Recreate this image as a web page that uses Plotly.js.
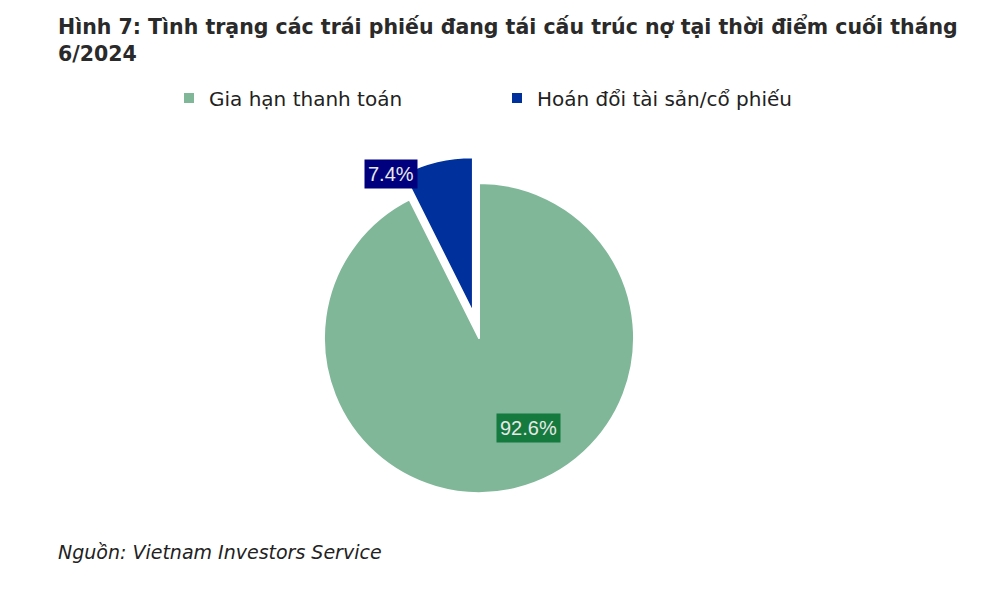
<!DOCTYPE html>
<html>
<head>
<meta charset="utf-8">
<script src="https://cdn.plot.ly/plotly-3.0.1.min.js"></script>
<style>
html,body{margin:0;padding:0;background:#fff;}
#chart{width:994px;height:596px;}
</style>
</head>
<body>
<div id="chart"></div>
<script>
// Data
const categories = ["Gia hạn thanh toán", "Hoán đổi tài sản/cổ phiếu"];
const shares = [92.6, 7.4];
const sliceColors = ["#7fb798", "#00309b"];
const labelBoxColors = ["#157a3e", "#00007f"];
const titleText = "Hình 7: Tình trạng các trái phiếu đang tái cấu trúc nợ tại thời điểm cuối tháng<br>6/2024";
const sourceText = "Nguồn: Vietnam Investors Service";

const FONT = "DejaVu Sans, Verdana, sans-serif";
const LABEL_FONT = "Liberation Sans, Arial, sans-serif";
const total = shares.reduce((a, b) => a + b, 0);
const pct = shares.map(v => (v / total * 100).toFixed(1) + "%");

const trace = {
  type: "pie",
  labels: categories,
  values: shares,
  sort: false,
  direction: "clockwise",
  rotation: 0,
  pull: [0, 0.17],
  marker: {colors: sliceColors, line: {color: "#ffffff", width: 2}},
  textinfo: "none",
  hoverinfo: "skip",
  domain: {x: [0.2994, 0.6644], y: [0.1285, 0.7372]}
};

// label placement (paper coordinates) for the data labels
const labelPos = [[0.5312, 0.2819], [0.3934, 0.708]];

const annotations = pct.map((t, i) => ({
  text: t, xref: "paper", yref: "paper",
  x: labelPos[i][0], y: labelPos[i][1],
  xanchor: "center", yanchor: "middle", showarrow: false,
  bgcolor: labelBoxColors[i], borderpad: 3,
  font: {family: LABEL_FONT, size: 20, color: "#e8e8e8"}
}));
annotations.push({
  text: "<i>" + sourceText + "</i>", xref: "paper", yref: "paper",
  x: 56 / 994, y: 1 - 552 / 596, xanchor: "left", yanchor: "middle",
  showarrow: false, font: {family: FONT, size: 19, color: "#222222"}
});

const layout = {
  width: 994, height: 596,
  paper_bgcolor: "#ffffff",
  margin: {l: 0, r: 0, t: 0, b: 0},
  title: {
    text: titleText, x: 58 / 994, xanchor: "left", xref: "paper",
    y: 1 - 34 / 596, yanchor: "top", yref: "paper",
    font: {family: FONT, size: 20.5, color: "#2a2a2a", weight: "bold"}
  },
  showlegend: true,
  legend: {
    orientation: "h", x: 169 / 994, xanchor: "left",
    y: 1 - 98 / 596, yanchor: "middle",
    entrywidth: 283, entrywidthmode: "pixels",
    font: {family: FONT, size: 20, color: "#222222"},
    itemwidth: 30
  },
  annotations: annotations
};

Plotly.newPlot("chart", [trace], layout, {displayModeBar: false, staticPlot: true});
</script>
</body>
</html>
